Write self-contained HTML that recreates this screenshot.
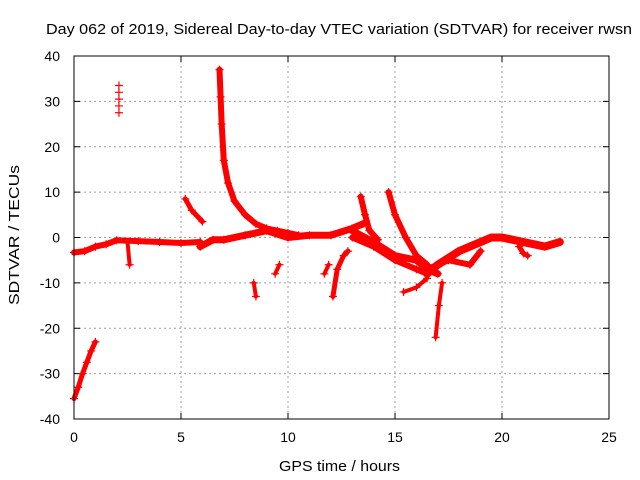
<!DOCTYPE html>
<html><head><meta charset="utf-8"><style>
body{margin:0;background:#fff}
svg{display:block;font-family:"Liberation Sans",sans-serif}
</style></head><body>
<svg id="chart" width="640" height="480" viewBox="0 0 640 480">
<rect width="640" height="480" fill="#fff"/>
<text x="46" y="34" font-size="15" textLength="586" lengthAdjust="spacingAndGlyphs" fill="#000">Day 062 of 2019, Sidereal Day-to-day VTEC variation (SDTVAR) for receiver rwsn</text>
<text x="279" y="471" font-size="15" textLength="121" lengthAdjust="spacingAndGlyphs">GPS time / hours</text>
<text transform="translate(19,305) rotate(-90)" font-size="15" textLength="140" lengthAdjust="spacingAndGlyphs">SDTVAR / TECUs</text>
<g id="grid"></g><g id="axes"></g><g id="marks"></g>
<rect x="74" y="56" width="535" height="363" fill="none" stroke="#000" stroke-width="1"/>
</svg>
<script>
const xTicks=[0,5,10,15,20,25];
const yTicks=[-40,-30,-20,-10,0,10,20,30,40];
const seriesEarly=[[0,-35.5],[0.2,-33],[0.4,-30],[0.6,-27.5],[0.8,-25],[1.0,-23]];
const seriesBandA=[[0,-3.3],[0.5,-3],[1,-2],[1.5,-1.5],[2,-0.6],[3,-0.8],[4,-1],[5,-1.2],[5.9,-1]];
const seriesSpike2=[[2.1,33.5],[2.1,32],[2.1,30.5],[2.1,29],[2.1,27.5]];
const seriesDip26=[[2.5,-1],[2.6,-6]];
const seriesS5=[[5.2,8.5],[5.5,6],[6,3.5]];
const seriesBig=[[6.8,37],[6.85,31],[6.9,25],[7.0,17],[7.2,12],[7.5,8],[8,5],[8.5,3],[9,2],[9.5,1.5],[10,1],[10.5,0.5]];
const seriesBandB=[[5.9,-2],[6.5,-0.5],[7,-0.5],[8,0.5],[9,1.5],[10,0],[11,0.5],[12,0.5],[13,2],[13.5,3]];
const seriesS84=[[8.4,-10],[8.5,-13]];
const seriesS96=[[9.4,-8],[9.6,-6]];
const seriesS118=[[11.7,-8],[11.9,-6]];
const seriesS121=[[12.1,-13],[12.3,-7],[12.6,-4],[12.8,-3]];
const seriesS134=[[13.4,9],[13.6,5],[13.8,1.6],[14.2,-0.5]];
const seriesBandC=[[13,1.5],[14,-1],[15,-4],[16,-5],[16.5,-7],[17,-8]];
const seriesBandD=[[13,0],[14,-2],[15,-5],[16,-7],[16.5,-8]];
const seriesS147=[[14.7,10],[15,5],[15.5,0],[16,-4],[16.5,-6]];
const seriesS168=[[17.2,-10],[17.05,-15],[16.9,-22]];
const seriesS155=[[15.4,-12],[16,-11],[16.5,-9]];
const seriesBandE=[[16.5,-8],[17,-6],[18,-3],[19,-1],[19.5,0],[20,0],[21,-1],[22,-2],[22.7,-1]];
const seriesBandF=[[16.5,-7],[17.5,-5],[18.5,-6],[19,-3]];
const seriesS21=[[20.8,-2],[21,-3.5],[21.2,-4]];
const xPx=v=>74+v*(535/25);
const yPx=v=>56+(40-v)*(363/80);
const NS='http://www.w3.org/2000/svg';
function mk(tag,attrs,parent){const e=document.createElementNS(NS,tag);for(const k in attrs)e.setAttribute(k,attrs[k]);parent.appendChild(e);return e;}
const grid=document.getElementById('grid'),axes=document.getElementById('axes'),marks=document.getElementById('marks');
xTicks.forEach(t=>{const x=xPx(t);
 if(t>0&&t<25){const l=mk('line',{x1:x,y1:56,x2:x,y2:419,stroke:'#a0a0a0','stroke-dasharray':'2,3'},grid);
 
 }
 mk('line',{x1:x,y1:419,x2:x,y2:413,stroke:'#000'},axes);mk('line',{x1:x,y1:56,x2:x,y2:62,stroke:'#000'},axes);
 const tx=mk('text',{x:x,y:442,'font-size':14,'text-anchor':'middle'},axes);tx.textContent=t;
 
 });
yTicks.forEach(t=>{const y=yPx(t);
 if(t>-40&&t<40){const l=mk('line',{x1:74,y1:y,x2:609,y2:y,stroke:'#a0a0a0','stroke-dasharray':'2,3'},grid);
 
 }
 mk('line',{x1:74,y1:y,x2:80,y2:y,stroke:'#000'},axes);mk('line',{x1:609,y1:y,x2:603,y2:y,stroke:'#000'},axes);
 const tx=mk('text',{x:60,y:y+5,'font-size':14,'text-anchor':'end'},axes);tx.textContent=t;
 
 });
const allSeries=[[seriesEarly,5],[seriesBandA,6],[seriesSpike2,0],[seriesDip26,4],[seriesS5,5],[seriesBig,6],[seriesBandB,7],[seriesS84,4],[seriesS96,4],[seriesS118,4],[seriesS121,5],[seriesS134,6],[seriesBandC,7],[seriesBandD,6],[seriesS147,6],[seriesS168,4],[seriesS155,4],[seriesBandE,8],[seriesBandF,6],[seriesS21,5]];
allSeries.forEach(([s,w])=>{
 if(w>0){const p=mk('polyline',{points:s.map(d=>xPx(d[0])+','+yPx(d[1])).join(' '),fill:'none',stroke:'#f00','stroke-width':w,'stroke-linejoin':'round','stroke-linecap':'round'},marks);
 
 }
 s.forEach(d=>{const x=xPx(d[0]),y=yPx(d[1]);
  const g=mk('path',{d:`M${x-4},${y}H${x+4}M${x},${y-4}V${y+4}`,stroke:'#f00','stroke-width':1.2},marks);
  
  });
});
</script>
</body></html>
